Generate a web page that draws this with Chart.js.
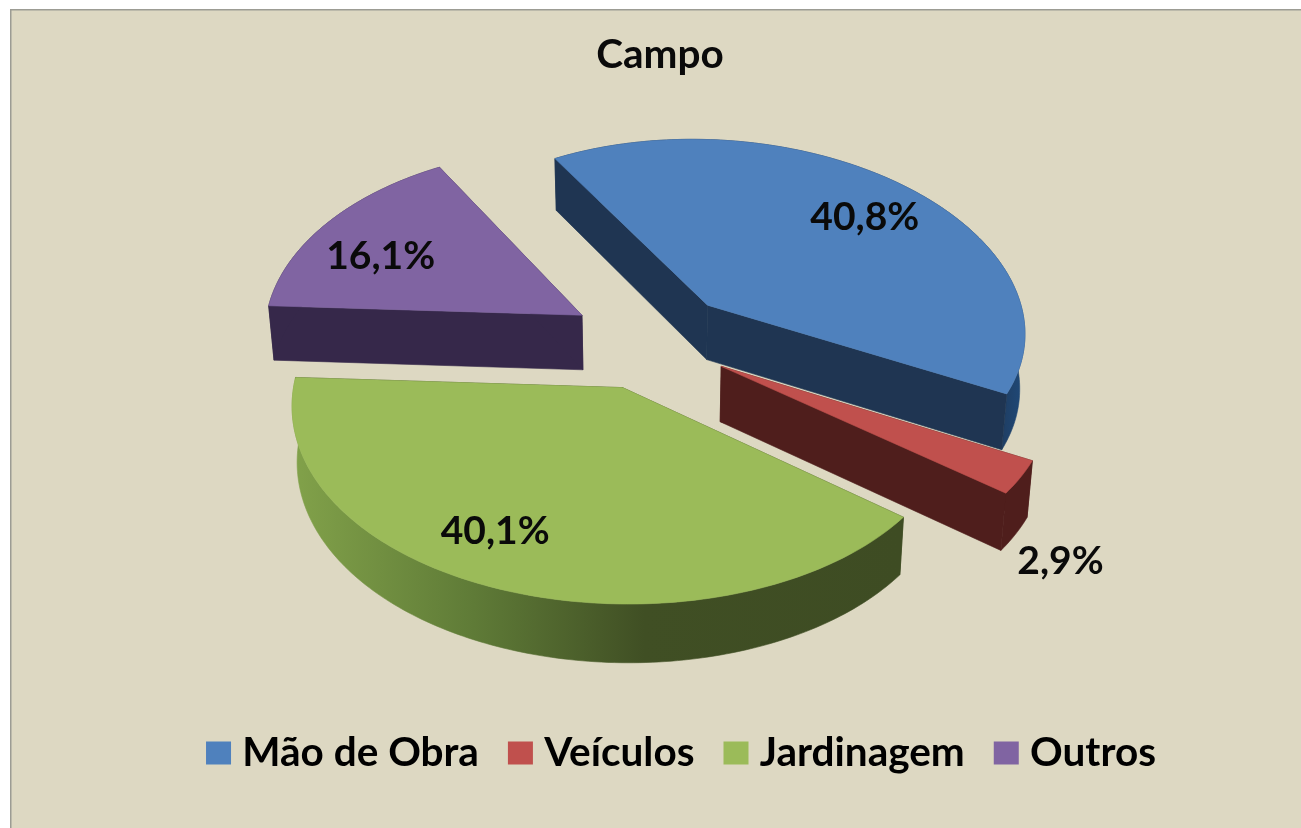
<!DOCTYPE html>
<html lang="pt">
<head>
<meta charset="utf-8">
<title>Campo</title>
<script src="https://cdn.jsdelivr.net/npm/chart.js@4/dist/chart.umd.min.js"></script>
<style>html,body{margin:0;padding:0;background:#fff}canvas{display:block}</style>
</head>
<body>
<canvas id="c" width="1301" height="828"></canvas>
<script>
const chartTitle = 'Campo';
const categories = ['Mão de Obra', 'Veículos', 'Jardinagem', 'Outros'];
const shares = [40.8, 2.9, 40.1, 16.1];
const valueLabels = ['40,8%', '2,9%', '40,1%', '16,1%'];
const topColors = ['#4F81BD', '#C0504D', '#9BBB59', '#8064A2'];
const sideColors = ['#1F3552', '#4F1E1C', '#3E4C23', '#36284A'];
const explode = [85, 81, 85, 81];
const drawOrder = [1, 3, 2, 0];
const labelFrac = [0.755, 1.285, 0.78, 0.736];
const labelTurn = [3, 13, 7.5, -5.4];

const FONT = 'Lato, "Open Sans", sans-serif';
const VIEW = {cx: 651, cy: 340, squash: 0.585, perspX: 0.11, perspY: 0.092, shear: 0.031, depth: 55, depthSlope: 3, converge: 0.014};

function pt(R, u, v, low) {
  let x = VIEW.cx + R * (u / (1 - VIEW.perspX * v) + VIEW.shear * v);
  let y = VIEW.cy + R * VIEW.squash * v / (1 - VIEW.perspY * v);
  if (low) {
    x = VIEW.cx + (x - VIEW.cx) * (1 - VIEW.converge);
    y += VIEW.depth + VIEW.depthSlope * v;
  }
  return [x, y];
}
function sliceGeom(arc) {
  const R = arc.outerRadius, d = (arc.options.offset || 0) / R;
  const mid = (arc.startAngle + arc.endAngle) / 2;
  const ou = Math.cos(mid) * d, ov = Math.sin(mid) * d;
  const rim = [];
  const n = Math.max(2, Math.ceil((arc.endAngle - arc.startAngle) * 180 / Math.PI));
  for (let i = 0; i <= n; i++) {
    const a = arc.startAngle + (arc.endAngle - arc.startAngle) * i / n;
    rim.push([ou + Math.cos(a), ov + Math.sin(a)]);
  }
  return {R, ou, ov, rim, mid};
}
function poly(ctx, pts, fill) {
  ctx.beginPath();
  pts.forEach((p, i) => i ? ctx.lineTo(p[0], p[1]) : ctx.moveTo(p[0], p[1]));
  ctx.closePath();
  ctx.fillStyle = fill;
  ctx.fill();
  ctx.strokeStyle = fill;
  ctx.lineWidth = 0.6;
  ctx.stroke();
}
function rimFill(ctx, i, base) {
  if (i === 2) {
    const g = ctx.createLinearGradient(291, 0, 900, 0);
    g.addColorStop(0, '#82A24A');
    g.addColorStop(0.3, '#5F7B37');
    g.addColorStop(0.58, '#404F24');
    g.addColorStop(1, '#3E4C23');
    return g;
  }
  if (i === 0) {
    const g = ctx.createLinearGradient(985, 0, 1027, 0);
    g.addColorStop(0, '#1F3552');
    g.addColorStop(1, '#1F4B7C');
    return g;
  }
  return base;
}

const pie3d = {
  id: 'pie3d',
  beforeDraw(chart) {
    const ctx = chart.ctx;
    ctx.save();
    ctx.fillStyle = '#FFFFFF';
    ctx.fillRect(0, 0, chart.width, chart.height);
    ctx.fillStyle = '#DDD8C2';
    ctx.fillRect(11, 10, chart.width - 11, chart.height - 10);
    ctx.fillStyle = '#9C9C94';
    ctx.fillRect(10, 9, chart.width - 10, 1.5);
    ctx.fillRect(10, 9, 1.5, chart.height - 9);
    ctx.restore();
  },
  afterLayout(chart) {
    chart.titleBlock.left += 9.5; chart.titleBlock.right += 9.5;
    const lg = chart.legend;
    lg.left += 35; lg.right += 35;
    const h = lg.bottom - lg.top;
    lg.top = 753 - lg.options.labels.padding - lg.options.labels.font.size / 2;
    lg.bottom = lg.top + h;
  },
  beforeDatasetDraw(chart, args) {
    const ctx = chart.ctx;
    const arcs = chart.getDatasetMeta(args.index).data;
    ctx.save();
    drawOrder.forEach(i => {
      const arc = arcs[i];
      const g = sliceGeom(arc);
      const P = (p, low) => pt(g.R, p[0], p[1], low);
      const apex = [g.ou, g.ov];
      const first = g.rim[0], last = g.rim[g.rim.length - 1];
      const base = sideColors[i];
      poly(ctx, [P(apex), P(first), P(first, true), P(apex, true)], base);
      poly(ctx, [...g.rim.map(p => P(p)), ...g.rim.slice().reverse().map(p => P(p, true))], rimFill(ctx, i, base));
      poly(ctx, [P(apex), P(last), P(last, true), P(apex, true)], base);
      poly(ctx, [P(apex), ...g.rim.map(p => P(p))], arc.options.backgroundColor);
    });
    ctx.restore();
    return false;
  },
  afterDatasetsDraw(chart) {
    const ctx = chart.ctx;
    const arcs = chart.getDatasetMeta(0).data;
    ctx.save();
    ctx.font = 'bold 39px ' + FONT;
    ctx.fillStyle = '#0A0A0A';
    ctx.textAlign = 'center';
    ctx.textBaseline = 'middle';
    arcs.forEach((arc, i) => {
      const g = sliceGeom(arc);
      const a = g.mid + labelTurn[i] * Math.PI / 180;
      const p = pt(g.R, g.ou + Math.cos(a) * labelFrac[i], g.ov + Math.sin(a) * labelFrac[i]);
      ctx.fillText(valueLabels[i], p[0], p[1]);
    });
    ctx.restore();
  }
};

new Chart(document.getElementById('c'), {
  type: 'pie',
  data: {
    labels: categories,
    datasets: [{
      data: shares,
      backgroundColor: topColors,
      borderWidth: 0,
      offset: explode,
      radius: 320,
      rotation: -29
    }]
  },
  options: {
    responsive: false,
    animation: false,
    layout: {padding: {top: 10, bottom: 30}},
    plugins: {
      tooltip: {enabled: false},
      title: {
        display: true,
        text: chartTitle,
        color: '#0A0A0A',
        font: {family: FONT, size: 40.5, weight: 'bold'},
        padding: {top: 21, bottom: 0}
      },
      legend: {
        display: true,
        position: 'bottom',
        labels: {
          boxWidth: 7,
          boxHeight: 5,
          padding: 38,
          color: '#0A0A0A',
          font: {family: FONT, size: 40.5, weight: 'bold'},
          generateLabels: chart => chart.data.labels.map((text, index) => ({
            text, index,
            fillStyle: topColors[index],
            strokeStyle: topColors[index],
            lineWidth: 18,
            lineJoin: 'miter',
            hidden: false
          }))
        }
      }
    }
  },
  plugins: [pie3d]
});
</script>
</body>
</html>
